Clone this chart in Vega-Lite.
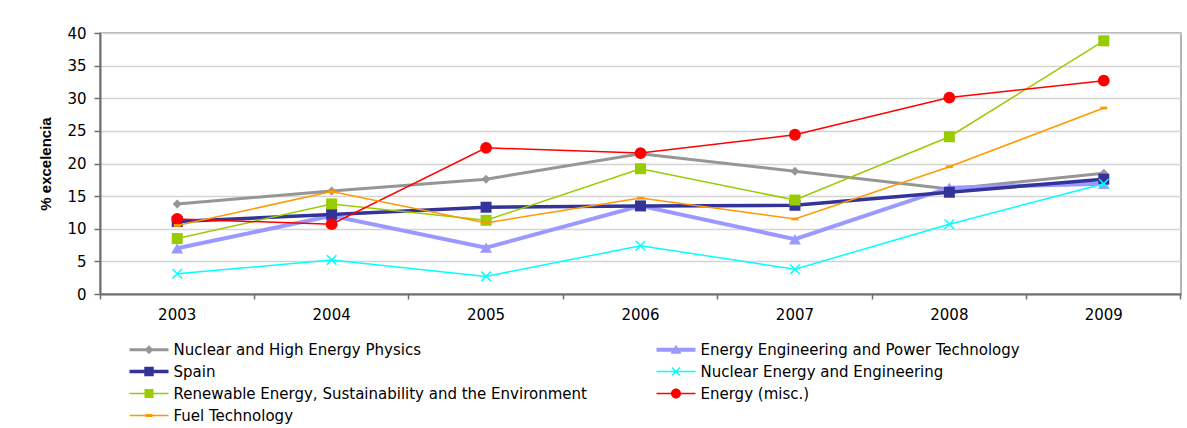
{
  "$schema": "https://vega.github.io/schema/vega-lite/v6.json",
  "width": 1081,
  "height": 261,
  "autosize": {"type": "none"},
  "padding": {"left": 100, "top": 33, "right": 6, "bottom": 134},
  "background": "white",
  "config": {
    "view": {"stroke": "#9a9a9a", "strokeWidth": 1.5},
    "font": "DejaVu Sans"
  },
  "data": {
    "values": [
      {"series": "Nuclear and High Energy Physics", "year": "2003", "value": 13.8},
      {"series": "Nuclear and High Energy Physics", "year": "2004", "value": 15.8},
      {"series": "Nuclear and High Energy Physics", "year": "2005", "value": 17.6},
      {"series": "Nuclear and High Energy Physics", "year": "2006", "value": 21.5},
      {"series": "Nuclear and High Energy Physics", "year": "2007", "value": 18.8},
      {"series": "Nuclear and High Energy Physics", "year": "2008", "value": 16.1},
      {"series": "Nuclear and High Energy Physics", "year": "2009", "value": 18.5},
      {"series": "Energy Engineering and Power Technology", "year": "2003", "value": 7.0},
      {"series": "Energy Engineering and Power Technology", "year": "2004", "value": 12.0},
      {"series": "Energy Engineering and Power Technology", "year": "2005", "value": 7.1},
      {"series": "Energy Engineering and Power Technology", "year": "2006", "value": 13.5},
      {"series": "Energy Engineering and Power Technology", "year": "2007", "value": 8.4},
      {"series": "Energy Engineering and Power Technology", "year": "2008", "value": 16.3},
      {"series": "Energy Engineering and Power Technology", "year": "2009", "value": 16.9},
      {"series": "Spain", "year": "2003", "value": 11.1},
      {"series": "Spain", "year": "2004", "value": 12.2},
      {"series": "Spain", "year": "2005", "value": 13.3},
      {"series": "Spain", "year": "2006", "value": 13.5},
      {"series": "Spain", "year": "2007", "value": 13.6},
      {"series": "Spain", "year": "2008", "value": 15.6},
      {"series": "Spain", "year": "2009", "value": 17.6},
      {"series": "Nuclear Energy and Engineering", "year": "2003", "value": 3.1},
      {"series": "Nuclear Energy and Engineering", "year": "2004", "value": 5.2},
      {"series": "Nuclear Energy and Engineering", "year": "2005", "value": 2.7},
      {"series": "Nuclear Energy and Engineering", "year": "2006", "value": 7.4},
      {"series": "Nuclear Energy and Engineering", "year": "2007", "value": 3.8},
      {"series": "Nuclear Energy and Engineering", "year": "2008", "value": 10.7},
      {"series": "Nuclear Energy and Engineering", "year": "2009", "value": 16.9},
      {"series": "Renewable Energy, Sustainability and the Environment", "year": "2003", "value": 8.5},
      {"series": "Renewable Energy, Sustainability and the Environment", "year": "2004", "value": 13.8},
      {"series": "Renewable Energy, Sustainability and the Environment", "year": "2005", "value": 11.3},
      {"series": "Renewable Energy, Sustainability and the Environment", "year": "2006", "value": 19.2},
      {"series": "Renewable Energy, Sustainability and the Environment", "year": "2007", "value": 14.4},
      {"series": "Renewable Energy, Sustainability and the Environment", "year": "2008", "value": 24.1},
      {"series": "Renewable Energy, Sustainability and the Environment", "year": "2009", "value": 38.8},
      {"series": "Energy (misc.)", "year": "2003", "value": 11.5},
      {"series": "Energy (misc.)", "year": "2004", "value": 10.7},
      {"series": "Energy (misc.)", "year": "2005", "value": 22.4},
      {"series": "Energy (misc.)", "year": "2006", "value": 21.6},
      {"series": "Energy (misc.)", "year": "2007", "value": 24.4},
      {"series": "Energy (misc.)", "year": "2008", "value": 30.1},
      {"series": "Energy (misc.)", "year": "2009", "value": 32.7},
      {"series": "Fuel Technology", "year": "2003", "value": 10.5},
      {"series": "Fuel Technology", "year": "2004", "value": 15.7},
      {"series": "Fuel Technology", "year": "2005", "value": 10.9},
      {"series": "Fuel Technology", "year": "2006", "value": 14.7},
      {"series": "Fuel Technology", "year": "2007", "value": 11.5},
      {"series": "Fuel Technology", "year": "2008", "value": 19.5},
      {"series": "Fuel Technology", "year": "2009", "value": 28.5}
    ]
  },
  "encoding": {
    "x": {
      "field": "year",
      "type": "ordinal",
      "scale": {"type": "band", "paddingInner": 0, "paddingOuter": 0},
      "axis": {
        "title": null,
        "labelAngle": 0,
        "labelFont": "DejaVu Sans",
        "labelFontSize": 15,
        "labelColor": "#000000",
        "labelPadding": 8,
        "domainColor": "#6e6e6e",
        "domainWidth": 2,
        "tickColor": "#6e6e6e",
        "tickWidth": 1.5,
        "tickSize": 5,
        "bandPosition": 1,
        "tickExtra": true,
        "grid": false
      }
    },
    "y": {
      "field": "value",
      "type": "quantitative",
      "scale": {"domain": [0, 40], "nice": false},
      "axis": {
        "title": "% excelencia",
        "titleFont": "Liberation Sans",
        "titleFontSize": 15,
        "titleFontWeight": "bold",
        "titleColor": "#000000",
        "titlePadding": 13,
        "values": [0, 5, 10, 15, 20, 25, 30, 35, 40],
        "labelFont": "DejaVu Sans",
        "labelFontSize": 15,
        "labelColor": "#000000",
        "labelPadding": 8,
        "domainColor": "#6e6e6e",
        "domainWidth": 2,
        "tickColor": "#6e6e6e",
        "tickWidth": 1.5,
        "tickSize": 6,
        "grid": true,
        "gridColor": "#d4d4d4",
        "gridWidth": 1.5
      }
    },
    "color": {
      "field": "series",
      "type": "nominal",
      "scale": {
        "domain": ["Nuclear and High Energy Physics", "Spain", "Renewable Energy, Sustainability and the Environment", "Fuel Technology", "Energy Engineering and Power Technology", "Nuclear Energy and Engineering", "Energy (misc.)"],
        "range": ["#969696", "#333399", "#99cc00", "#ff9900", "#9999ff", "#00ffff", "#ff0000"]
      },
      "legend": {
        "orient": "none",
        "legendX": 27,
        "legendY": 309,
        "columns": 2,
        "columnPadding": 67,
        "rowPadding": 6,
        "padding": 0,
        "title": null,
        "labelFont": "DejaVu Sans",
        "labelFontSize": 15,
        "labelColor": "#000000",
        "labelLimit": 1000,
        "symbolSize": 100,
        "symbolStrokeWidth": 0,
        "symbolOffset": 14.5,
        "labelOffset": 17,
        "encode": {
          "symbols": {
            "update": {
              "shape": {"signal": "datum.value === 'Nuclear and High Energy Physics' ? 'M-3.9,-0.3H3.9V0.3H-3.9ZM0,-0.9L0.9,0L0,0.9L-0.9,0Z' : datum.value === 'Energy Engineering and Power Technology' ? 'M-3.9,-0.4H3.9V0.4H-3.9ZM0,-1L1.1,0.8L-1.1,0.8Z' : datum.value === 'Spain' ? 'M-3.9,-0.35H3.9V0.35H-3.9ZM-0.95,-0.95H0.95V0.95H-0.95Z' : datum.value === 'Nuclear Energy and Engineering' ? 'M-3.9,-0.15H3.9V0.15H-3.9ZM-0.694,-0.906L0.906,0.694L0.694,0.906L-0.906,-0.694ZM-0.906,0.694L0.694,-0.906L0.906,-0.694L-0.694,0.906Z' : datum.value === 'Renewable Energy, Sustainability and the Environment' ? 'M-3.9,-0.15H3.9V0.15H-3.9ZM-0.9,-0.9H0.9V0.9H-0.9Z' : datum.value === 'Energy (misc.)' ? 'M-3.9,-0.15H3.9V0.15H-3.9ZM-1,0A1,1 0 1,1 1,0A1,1 0 1,1 -1,0Z' : 'M-3.9,-0.15H3.9V0.15H-3.9ZM-0.7,-0.3H0.7V0.3H-0.7Z'"},
              "fill": {"scale": "color", "field": "value"},
              "size": {"value": 100},
              "strokeWidth": {"value": 0},
              "opacity": {"value": 1}
            }
          }
        }
      }
    }
  },
  "layer": [
    {
      "transform": [{"filter": {"field": "series", "equal": "Nuclear and High Energy Physics"}}],
      "mark": {"type": "line", "strokeWidth": 3, "point": {"shape": "diamond", "size": 81, "filled": true, "strokeWidth": 0, "opacity": 1}}
    },
    {
      "transform": [{"filter": {"field": "series", "equal": "Energy Engineering and Power Technology"}}],
      "mark": {"type": "line", "strokeWidth": 4, "point": {"shape": "triangle-up", "size": 144, "filled": true, "strokeWidth": 0, "opacity": 1}}
    },
    {
      "transform": [{"filter": {"field": "series", "equal": "Spain"}}],
      "mark": {"type": "line", "strokeWidth": 3.5, "point": {"shape": "square", "size": 121, "filled": true, "strokeWidth": 0, "opacity": 1}}
    },
    {
      "transform": [{"filter": {"field": "series", "equal": "Nuclear Energy and Engineering"}}],
      "mark": {"type": "line", "strokeWidth": 1.5, "point": {"shape": "M-0.887,-1.113L1.113,0.887L0.887,1.113L-1.113,-0.887ZM-1.113,0.887L0.887,-1.113L1.113,-0.887L-0.887,1.113Z", "size": 90, "filled": true, "strokeWidth": 0, "opacity": 1}}
    },
    {
      "transform": [{"filter": {"field": "series", "equal": "Renewable Energy, Sustainability and the Environment"}}],
      "mark": {"type": "line", "strokeWidth": 1.5, "point": {"shape": "square", "size": 121, "filled": true, "strokeWidth": 0, "opacity": 1}}
    },
    {
      "transform": [{"filter": {"field": "series", "equal": "Energy (misc.)"}}],
      "mark": {"type": "line", "strokeWidth": 1.5, "point": {"shape": "circle", "size": 140, "filled": true, "strokeWidth": 0, "opacity": 1}}
    },
    {
      "transform": [{"filter": {"field": "series", "equal": "Fuel Technology"}}],
      "mark": {"type": "line", "strokeWidth": 1.5, "point": {"shape": "M-1,-0.4H1V0.4H-1Z", "size": 49, "filled": true, "strokeWidth": 0, "opacity": 1}}
    }
  ]
}
